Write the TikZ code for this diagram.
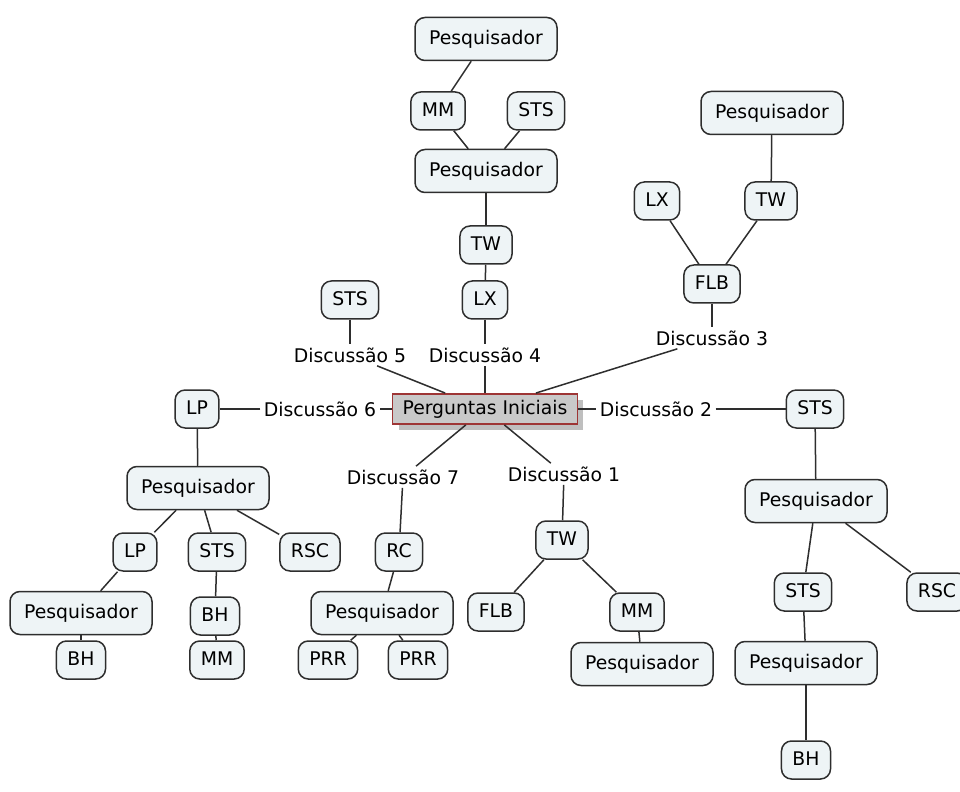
\documentclass[tikz,border=0pt]{standalone}
\usepackage{fontspec}
\setmainfont{DejaVu Sans}
\usepackage{tikz}
\usetikzlibrary{shadows}
\definecolor{boxfill}{HTML}{EEF4F6}
\definecolor{boxline}{HTML}{2E2E2E}
\definecolor{rootfill}{HTML}{C9C9C9}
\definecolor{rootline}{HTML}{9E3535}

\begin{document}
\begin{tikzpicture}[x=0.5pt,y=-0.5pt,
  every node/.style={font=\fontsize{9.4}{11}\selectfont},
  box/.style={draw=boxline,line width=0.75pt,fill=boxfill,rounded corners=5pt,
    inner xsep=5.5pt,minimum height=19pt,text height=7pt,text depth=1.5pt},
  pesq/.style={box,minimum height=21.5pt,minimum width=71pt},
  disc/.style={inner sep=1.5pt},
  root/.style={draw=rootline,line width=0.75pt,fill=rootfill,inner xsep=5pt,
    minimum height=14.5pt,text height=7pt,text depth=1.5pt,
    drop shadow={shadow xshift=3pt,shadow yshift=-3pt,fill=black!25,opacity=1}}]
  \useasboundingbox (0,0) rectangle (960,792);

  \node[root] (n0) at (485,409) {Perguntas Iniciais};

  % discussao 4
  \node[pesq] (n1) at (486,39) {Pesquisador};
  \node[box] (n2) at (438,111) {MM};
  \node[box] (n3) at (536,111) {STS};
  \node[pesq] (n4) at (486,171) {Pesquisador};
  \node[box] (n5) at (486,245) {TW};
  \node[box] (n6) at (485,300) {LX};
  \node[disc] (d4) at (485,355) {Discussão 4};

  % discussao 5
  \node[box] (n7) at (350,300) {STS};
  \node[disc] (d5) at (350,355) {Discussão 5};

  % discussao 3
  \node[pesq] (n8) at (772,113) {Pesquisador};
  \node[box] (n9) at (657,201) {LX};
  \node[box] (n10) at (771,201) {TW};
  \node[box] (n11) at (712,284) {FLB};
  \node[disc] (d3) at (712,338) {Discussão 3};

  % discussao 2
  \node[disc] (d2) at (656,409) {Discussão 2};
  \node[box] (n12) at (815,409) {STS};
  \node[pesq] (n13) at (816,501) {Pesquisador};
  \node[box] (n14) at (803,592) {STS};
  \node[box] (n15) at (937,592) {RSC};
  \node[pesq] (n16) at (806,663) {Pesquisador};
  \node[box] (n17) at (806,760) {BH};

  % discussao 6
  \node[disc] (d6) at (320,409) {Discussão 6};
  \node[box] (n18) at (197,409) {LP};
  \node[pesq] (n19) at (198,488) {Pesquisador};
  \node[box] (n20) at (135,552) {LP};
  \node[box] (n21) at (217,552) {STS};
  \node[box] (n22) at (310,552) {RSC};
  \node[pesq] (n23) at (81,613) {Pesquisador};
  \node[box] (n24) at (81,660) {BH};
  \node[box] (n25) at (215,616) {BH};
  \node[box] (n26) at (217,660) {MM};

  % discussao 7
  \node[disc] (d7) at (403,477) {Discussão 7};
  \node[box] (n27) at (399,552) {RC};
  \node[pesq] (n28) at (382,613) {Pesquisador};
  \node[box] (n29) at (328,660) {PRR};
  \node[box] (n30) at (418,660) {PRR};

  % discussao 1
  \node[disc] (d1) at (564,474) {Discussão 1};
  \node[box] (n31) at (562,540) {TW};
  \node[box] (n32) at (496,612) {FLB};
  \node[box] (n33) at (637,612) {MM};
  \node[pesq] (n34) at (642,664) {Pesquisador};

  \foreach \from/\to in {n1/n2,n2/n4,n3/n4,n4/n5,n5/n6,n6/d4,d4/n0,n7/d5,d5/n0,
    n8/n10,n9/n11,n10/n11,n11/d3,d3/n0,n0/d2,d2/n12,n12/n13,n13/n14,n13/n15,
    n14/n16,n16/n17,n0/d6,d6/n18,n18/n19,n19/n20,n19/n21,n19/n22,n20/n23,
    n23/n24,n21/n25,n25/n26,n0/d7,d7/n27,n27/n28,n28/n29,n28/n30,n0/d1,
    d1/n31,n31/n32,n31/n33,n33/n34}
    \draw[boxline,line width=0.75pt] (\from) -- (\to);

\end{tikzpicture}
\end{document}
